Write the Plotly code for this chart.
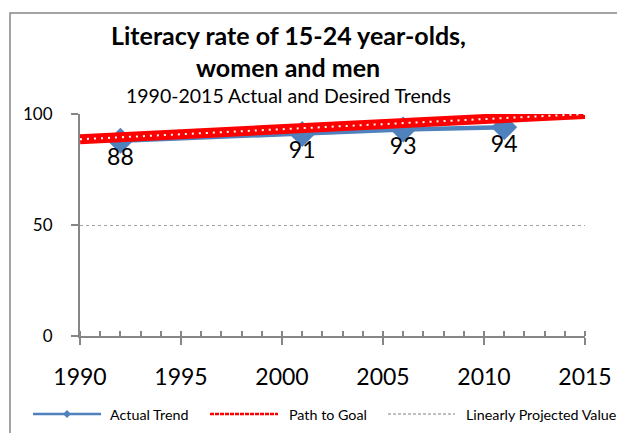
import plotly.graph_objects as go

# ---- data ----
actual_years = [1992, 2001, 2006, 2011]
actual_values = [88, 91, 93, 94]
actual_labels = ["88", "91", "93", "94"]
goal_years = [1990, 2015]
goal_values = [88.6, 100]
x_ticks = [1990, 1995, 2000, 2005, 2010, 2015]
y_ticks = [0, 50, 100]

title_line1 = "Literacy rate of 15-24 year-olds,"
title_line2 = "women and men"
subtitle = "1990-2015 Actual and Desired Trends"
legend_names = ["Actual Trend", "Path to Goal", "Linearly Projected Value"]

FONT = "Lato"
OFF = 8  # default page body margin
W, H = 625 - OFF, 433 - OFF
PLOT_L, PLOT_T, PW, PH = 80, 114, 505, 222  # target pixel positions in window
L, T = PLOT_L - OFF, PLOT_T - OFF
R, B = W - L - PW, H - T - PH


def px(x):
    return (x - PLOT_L) / PW


def py(y):
    return (PLOT_T + PH - y) / PH


fig = go.Figure()

# Actual trend
fig.add_trace(go.Scatter(
    x=actual_years, y=actual_values, mode="lines+markers",
    line=dict(color="#4F81BD", width=4.5),
    marker=dict(symbol="diamond", size=20, color="#4F81BD"),
    showlegend=False, cliponaxis=False, name=legend_names[0],
))
# Path to goal: red band with white dots
fig.add_trace(go.Scatter(
    x=goal_years, y=goal_values, mode="lines",
    line=dict(color="#FF0000", width=10),
    showlegend=False, cliponaxis=False, name=legend_names[1], hoverinfo="skip",
))
fig.add_trace(go.Scatter(
    x=goal_years, y=goal_values, mode="lines",
    line=dict(color="#FFFFFF", width=2, dash="2px,5px"),
    showlegend=False, cliponaxis=False, hoverinfo="skip",
))
# data labels
fig.add_trace(go.Scatter(
    x=actual_years, y=actual_values, mode="markers+text",
    text=actual_labels, textposition="bottom center",
    marker=dict(size=10, color="rgba(0,0,0,0)"),
    textfont=dict(family=FONT, size=23, color="#000000"),
    showlegend=False, cliponaxis=False, hoverinfo="skip",
))

shapes = []
annotations = []

# outer chart border
shapes.append(dict(type="rect", xref="paper", yref="paper",
                   x0=px(10), x1=px(700), y0=py(500), y1=py(13),
                   line=dict(color="#868686", width=1.5), layer="below"))

# titles
annotations.append(dict(text="<b>" + title_line1 + "</b>", x=px(288), y=py(35),
                        xref="paper", yref="paper", showarrow=False,
                        xanchor="center", yanchor="middle",
                        font=dict(family=FONT, size=25, color="#000000")))
annotations.append(dict(text="<b>" + title_line2 + "</b>", x=px(288), y=py(67),
                        xref="paper", yref="paper", showarrow=False,
                        xanchor="center", yanchor="middle",
                        font=dict(family=FONT, size=25, color="#000000")))
annotations.append(dict(text=subtitle, x=px(288), y=py(96),
                        xref="paper", yref="paper", showarrow=False,
                        xanchor="center", yanchor="middle",
                        font=dict(family=FONT, size=19.5, color="#000000")))

# manual legend
leg_y = py(414)
shapes.append(dict(type="line", xref="paper", yref="paper",
                   x0=px(33), x1=px(101), y0=leg_y, y1=leg_y,
                   line=dict(color="#4F81BD", width=2.5)))
d = 4
shapes.append(dict(type="path", xref="paper", yref="paper",
                   path=f"M {px(67-d)} {py(414)} L {px(67)} {py(414-d)} L {px(67+d)} {py(414)} L {px(67)} {py(414+d)} Z",
                   fillcolor="#4F81BD", line=dict(color="#4F81BD", width=0)))
shapes.append(dict(type="line", xref="paper", yref="paper",
                   x0=px(210), x1=px(278), y0=leg_y, y1=leg_y,
                   line=dict(color="#FF0000", width=2.5, dash="4px,1px")))
shapes.append(dict(type="line", xref="paper", yref="paper",
                   x0=px(388), x1=px(455), y0=leg_y, y1=leg_y,
                   line=dict(color="#808080", width=1, dash="3px,2px")))
for name, xx in zip(legend_names, [108, 287, 464]):
    annotations.append(dict(text=name, x=px(xx), y=leg_y, xref="paper", yref="paper",
                            showarrow=False, xanchor="left", yanchor="middle",
                            font=dict(family=FONT, size=14.3, color="#000000")))

fig.update_layout(
    width=W, height=H,
    margin=dict(l=L, r=R, t=T, b=B, pad=0),
    paper_bgcolor="#FFFFFF", plot_bgcolor="#FFFFFF",
    shapes=shapes, annotations=annotations,
    showlegend=False,
    xaxis=dict(
        range=[1990, 2015], tickvals=x_ticks, ticktext=[str(v) for v in x_ticks],
        showgrid=False, zeroline=False,
        showline=True, linecolor="#868686", linewidth=2,
        ticks="outside", ticklen=7, tickwidth=2, tickcolor="#868686",
        ticklabelstandoff=12,
        minor=dict(dtick=1, ticks="inside", ticklen=5, tickwidth=1.5, tickcolor="#868686", showgrid=False),
        tickfont=dict(family=FONT, size=23, color="#000000"),
        fixedrange=True,
    ),
    yaxis=dict(
        range=[0, 100], tickvals=y_ticks,
        showgrid=True, gridcolor="#A0A0A0", griddash="dot", gridwidth=1,
        zeroline=False,
        showline=True, linecolor="#868686", linewidth=2,
        ticks="outside", ticklen=7, tickwidth=2, tickcolor="#868686",
        ticklabelstandoff=15,
        tickfont=dict(family=FONT, size=17, color="#000000"),
        fixedrange=True,
    ),
)

fig.write_html("out.html")
